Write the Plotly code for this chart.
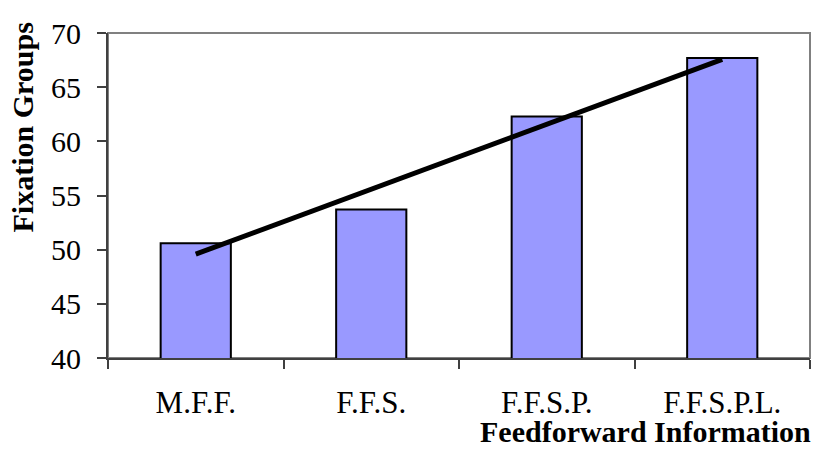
import numpy as np
import plotly.graph_objects as go

categories = ["M.F.F.", "F.F.S.", "F.F.S.P.", "F.F.S.P.L."]
values = [50.6, 53.7, 62.3, 67.7]
y_ticks = [40, 45, 50, 55, 60, 65, 70]
y_title = "Fixation Groups"
x_title = "Feedforward Information"

# linear trendline (as in the original spreadsheet chart)
idx = np.arange(len(values))
slope, intercept = np.polyfit(idx, values, 1)
trend_x = [categories[0], categories[-1]]
trend_y = [intercept, intercept + slope * (len(values) - 1)]

FONT = "Liberation Serif"

fig = go.Figure()
fig.add_trace(go.Bar(
    x=categories, y=values, width=0.4,
    marker=dict(color="#9999FF", line=dict(color="black", width=2)),
    showlegend=False, hoverinfo="skip",
))
fig.add_trace(go.Scatter(
    x=trend_x, y=trend_y, mode="lines",
    line=dict(color="black", width=5),
    showlegend=False, hoverinfo="skip",
))

fig.update_layout(
    width=816, height=450,
    margin=dict(l=108, r=6, t=33, b=92),
    paper_bgcolor="white", plot_bgcolor="white",
    font=dict(family=FONT, color="black", size=27),
    bargap=0.6,
    shapes=[dict(type="rect", xref="paper", yref="paper", x0=0, y0=0, x1=1, y1=1,
                 line=dict(color="#808080", width=2), layer="below")],
    annotations=[
        dict(text="<b>" + y_title + "</b>", xref="paper", yref="paper",
             x=-108 / 702, y=(450 - 92 - 128) / 325, xanchor="left", yanchor="middle",
             textangle=-90, showarrow=False, font=dict(size=30, family=FONT), xshift=4),
        dict(text="<b>" + x_title + "</b>", xref="paper", yref="paper",
             x=1, y=0, xanchor="right", yanchor="middle", showarrow=False,
             yshift=-73, xshift=3, font=dict(size=30, family=FONT)),
    ],
)
fig.update_xaxes(
    type="category", categoryorder="array", categoryarray=categories,
    tickson="boundaries", ticks="outside", ticklen=9, tickwidth=1.5, tickcolor="#404040",
    showline=True, linecolor="#404040", linewidth=2,
    showgrid=False, tickfont=dict(size=31, family=FONT),
    ticklabelstandoff=16, range=[-0.5, 3.5],
)
fig.update_yaxes(
    range=[40, 70], tickvals=y_ticks, ticktext=[f"{v}\u2004" for v in y_ticks],
    ticks="outside", ticklen=9, tickwidth=1.5, tickcolor="#404040",
    showline=True, linecolor="#404040", linewidth=2,
    showgrid=False, zeroline=False, tickfont=dict(size=30, family=FONT),
)
fig.write_html("out.html", config={"displayModeBar": False},
               post_script="document.body.style.margin='0';document.body.style.overflow='hidden';")
